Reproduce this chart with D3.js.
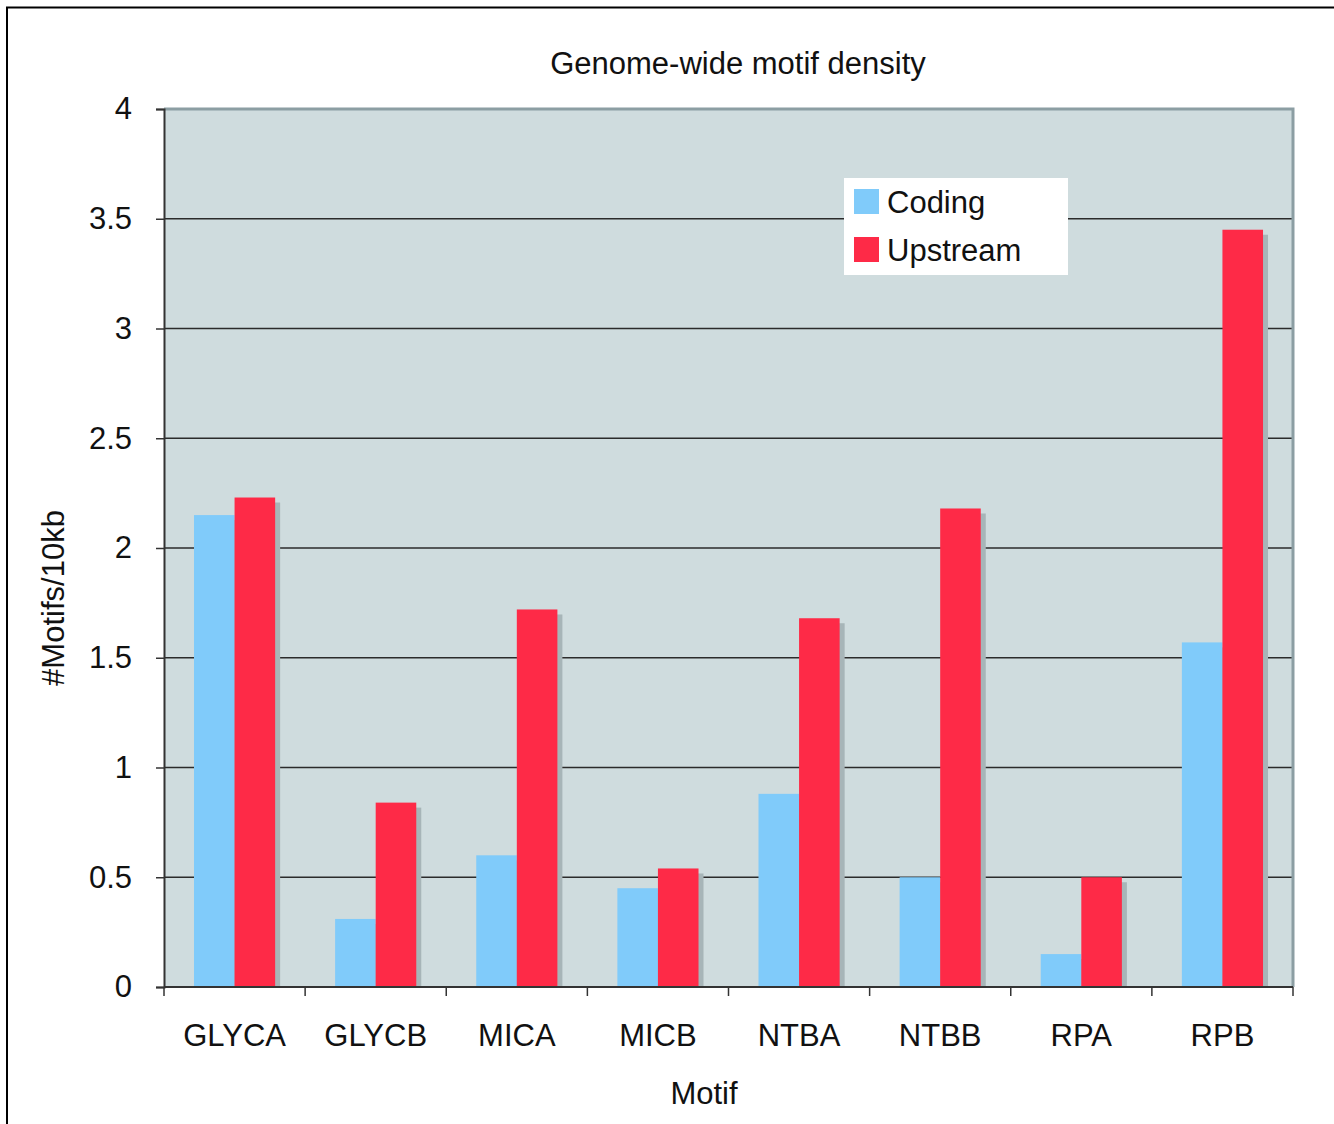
<!DOCTYPE html>
<html lang="en">
<head>
    <meta charset="UTF-8">
    <title>Genome-wide motif density</title>
    <script src="https://d3js.org/d3.v7.min.js"></script>
    <style>
        body { margin: 0; background: #fff; }
        svg text { font-family: "Liberation Sans", Arial, Helvetica, sans-serif; fill: #111; }
        .tick text { font-size: 31px; }
    </style>
</head>
<body>
    <svg width="1334" height="1124"></svg>
    <script>
        // data
        const motifs = ["GLYCA", "GLYCB", "MICA", "MICB", "NTBA", "NTBB", "RPA", "RPB"];
        const coding = [2.15, 0.31, 0.60, 0.45, 0.88, 0.50, 0.15, 1.57];
        const upstream = [2.23, 0.84, 1.72, 0.54, 1.68, 2.18, 0.50, 3.45];
        const seriesNames = ["Coding", "Upstream"];
        const yTicks = [0, 0.5, 1, 1.5, 2, 2.5, 3, 3.5, 4];

        const colors = { Coding: "#80cbfa", Upstream: "#fe2a47" };

        const margin = { top: 109, left: 164, right: 41, bottom: 137 };
        const width = 1334 - margin.left - margin.right;
        const height = 1124 - margin.top - margin.bottom;

        const root = d3.select("svg");

        // outer frame (only left and top visible)
        root.append("path")
            .attr("d", "M7,1124 V7.5 H1334")
            .attr("fill", "none")
            .attr("stroke", "#000")
            .attr("stroke-width", 2);

        const svg = root.append("g")
            .attr("transform", "translate(" + margin.left + "," + margin.top + ")");

        const x = d3.scaleBand()
            .domain(motifs)
            .range([0, width])
            .paddingInner(0.425)
            .paddingOuter(0.2125);

        const xSub = d3.scaleBand()
            .domain(seriesNames)
            .range([0, x.bandwidth()]);

        const y = d3.scaleLinear()
            .domain([0, 4])
            .range([height, 0]);

        // plot background
        svg.append("rect")
            .attr("width", width)
            .attr("height", height)
            .attr("fill", "#cfdcde");

        // grid lines
        svg.append("g")
            .selectAll("line")
            .data(yTicks.filter(d => d > 0 && d < 4))
            .enter().append("line")
            .attr("x1", 0)
            .attr("x2", width)
            .attr("y1", d => y(d))
            .attr("y2", d => y(d))
            .attr("stroke", "#2b2b2b")
            .attr("stroke-width", 1.3);

        // plot frame top/right
        svg.append("path")
            .attr("d", "M0," + y(4) + " H" + width + " V" + height)
            .attr("fill", "none")
            .attr("stroke", "#8c9ea3")
            .attr("stroke-width", 3);

        const table = motifs.map((m, i) => ({ motif: m, Coding: coding[i], Upstream: upstream[i] }));

        const groups = svg.append("g")
            .selectAll("g")
            .data(table)
            .enter().append("g")
            .attr("transform", d => "translate(" + x(d.motif) + ",0)");

        // drop shadows
        groups.selectAll(".shadow")
            .data(d => seriesNames.map(s => ({ key: s, value: d[s] })))
            .enter().append("rect")
            .attr("class", "shadow")
            .attr("x", d => xSub(d.key) + 5)
            .attr("y", d => y(d.value) + 5)
            .attr("width", xSub.bandwidth())
            .attr("height", d => height - y(d.value) - 5)
            .attr("fill", "#a7b5b8");

        groups.selectAll(".bar")
            .data(d => seriesNames.map(s => ({ key: s, value: d[s] })))
            .enter().append("rect")
            .attr("class", "bar")
            .attr("x", d => xSub(d.key))
            .attr("y", d => y(d.value))
            .attr("width", xSub.bandwidth())
            .attr("height", d => height - y(d.value))
            .attr("fill", d => colors[d.key]);

        // X axis with ticks at group boundaries
        const xAxis = svg.append("g")
            .attr("transform", "translate(0," + height + ")");
        xAxis.append("line")
            .attr("x1", 0).attr("x2", width)
            .attr("stroke", "#333").attr("stroke-width", 2);
        const step = x.step();
        xAxis.selectAll(".xt")
            .data(d3.range(motifs.length + 1))
            .enter().append("line")
            .attr("x1", i => i * step).attr("x2", i => i * step)
            .attr("y1", 0).attr("y2", 9)
            .attr("stroke", "#333").attr("stroke-width", 1.5);
        xAxis.selectAll(".xl")
            .data(motifs)
            .enter().append("text")
            .attr("x", d => x(d) + x.bandwidth() / 2)
            .attr("y", 59)
            .attr("text-anchor", "middle")
            .style("font-size", "31px")
            .text(d => d);

        // Y axis
        svg.append("g")
            .call(d3.axisLeft(y).tickValues(yTicks).tickSize(8).tickPadding(24).tickFormat(d3.format("")))
            .call(g => g.select(".domain").attr("stroke", "#333").attr("stroke-width", 2))
            .call(g => g.selectAll(".tick line").attr("stroke", "#333").attr("stroke-width", 1.5));

        // legend
        const legend = svg.append("g")
            .attr("transform", "translate(" + (844 - margin.left) + "," + (178 - margin.top) + ")");
        legend.append("rect")
            .attr("width", 224)
            .attr("height", 97)
            .attr("fill", "#fff");
        seriesNames.forEach((s, i) => {
            legend.append("rect")
                .attr("x", 10)
                .attr("y", 11 + i * 48)
                .attr("width", 25)
                .attr("height", 25)
                .attr("fill", colors[s]);
            legend.append("text")
                .attr("x", 43)
                .attr("y", 35 + i * 48)
                .style("font-size", "31px")
                .text(s);
        });

        // titles
        root.append("text")
            .attr("x", 738)
            .attr("y", 74)
            .attr("text-anchor", "middle")
            .style("font-size", "31px")
            .text("Genome-wide motif density");

        root.append("text")
            .attr("x", 704)
            .attr("y", 1104)
            .attr("text-anchor", "middle")
            .style("font-size", "31px")
            .text("Motif");

        root.append("text")
            .attr("transform", "translate(64,598) rotate(-90)")
            .attr("text-anchor", "middle")
            .style("font-size", "31px")
            .text("#Motifs/10kb");
    </script>
</body>
</html>
